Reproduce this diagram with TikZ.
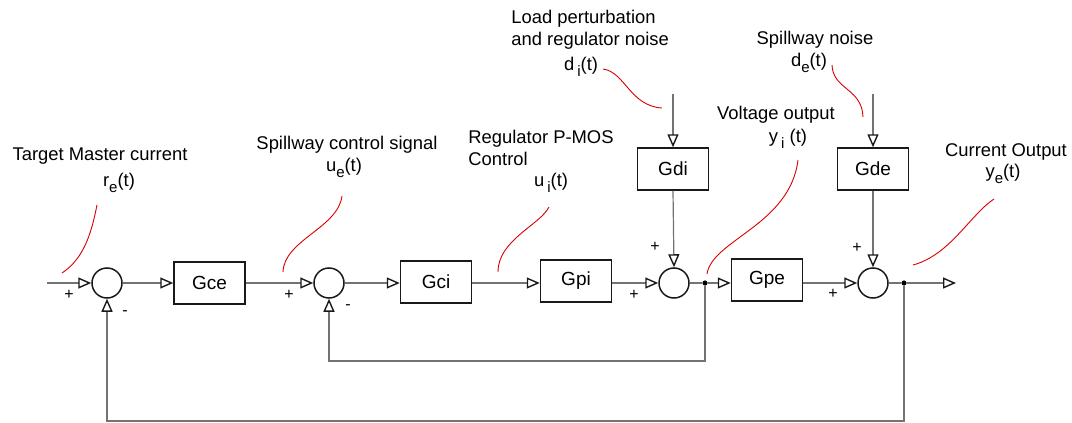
\documentclass[tikz,border=0pt]{standalone}
\usepackage{fontspec}
\setmainfont{Liberation Sans}
\usetikzlibrary{arrows.meta}
\newcommand{\sbs}[1]{\raisebox{-0.6ex}{\fontsize{7.5}{8}\selectfont #1}}
\begin{document}
\begin{tikzpicture}[x=0.5pt,y=-0.5pt,
 blk/.style={draw=black!90, line width=0.75pt, minimum width=35.5pt, minimum height=21pt, inner sep=0pt, font=\fontsize{9.5}{11}\selectfont},
 sumj/.style={circle, draw=black!90, line width=0.75pt, minimum size=15pt, inner sep=0pt},
 sig/.style={draw=black!55, line width=0.6pt, -{Triangle[open,length=6.5pt,width=5.5pt,color=black!90,line width=0.7pt]}},
 wire/.style={draw=black!55, line width=0.6pt},
 lbl/.style={font=\fontsize{9.2}{10.5}\selectfont, inner sep=0pt},
 sgn/.style={font=\fontsize{8}{9}\selectfont, inner sep=0pt},
 note/.style={draw=red!85!black, line width=0.45pt},
 jdot/.style={circle, fill=black, inner sep=0pt, minimum size=2.6pt}]

\useasboundingbox (0,0) rectangle (1072,423);

% blocks and junctions
\node[sumj] (s1) at (107,283) {};
\node[blk] (gce) at (209.5,283) {Gce};
\node[sumj] (s2) at (329,283) {};
\node[blk] (gci) at (436,282) {Gci};
\node[blk] (gpi) at (576,281) {Gpi};
\node[sumj] (s3) at (674,283) {};
\node[blk] (gdi) at (673,169) {Gdi};
\node[jdot] (j1) at (705,283) {};
\node[blk] (gpe) at (767,280) {Gpe};
\node[sumj] (s4) at (873,283) {};
\node[blk] (gde) at (873,169) {Gde};
\node[jdot] (j2) at (904,283) {};

\coordinate (in) at (47,283);
\coordinate (out) at (956,283);
\coordinate (di) at (673,94);
\coordinate (de) at (873,94);
\coordinate (fbi) at (705,361);
\coordinate (fbo) at (904,421);

% forward path
\draw[sig] (in) -- (s1.west);
\draw[sig] (s1.east) -- (gce.west |- s1.east);
\draw[sig] (gce.east |- s1.east) -- (s2.west);
\draw[sig] (s2.east) -- (gci.west |- s2.east);
\draw[sig] (gci.east |- s2.east) -- (gpi.west |- s2.east);
\draw[sig] (gpi.east |- s3.west) -- (s3.west);
\draw[wire] (s3.east) -- (j1);
\draw[sig] (j1) -- (gpe.west |- j1);
\draw[sig] (gpe.east |- s4.west) -- (s4.west);
\draw[wire] (s4.east) -- (j2);
\draw[sig] (j2) -- (out);

% disturbances
\draw[sig] (di) -- (gdi.north);
\draw[sig] (gdi.south) -- (s3.north);
\draw[sig] (de) -- (gde.north);
\draw[sig] (gde.south) -- (s4.north);

% feedback loops
\draw[sig] (j1) -- (fbi) -- (s2.south |- fbi) -- (s2.south);
\draw[sig] (j2) -- (fbo) -- (s1.south |- fbo) -- (s1.south);

% signs
\node[sgn] (p1) at (69,295) {+};
\node[sgn] (m1) at (125,313) {-};
\node[sgn] (p2) at (289,295) {+};
\node[sgn] (m2) at (348,307) {-};
\node[sgn] (p3) at (634,295) {+};
\node[sgn] (p3b) at (655,247) {+};
\node[sgn] (p4) at (833,294) {+};
\node[sgn] (p4b) at (857,248) {+};

% labels
\node[lbl] (t1) at (100,156) {Target Master current};
\node[lbl] (t1s) at (119,183) {r\sbs{e}(t)};
\node[lbl] (t2) at (347,145) {Spillway control signal};
\node[lbl] (t2s) at (344,168) {u\sbs{e}(t)};
\node[lbl, anchor=north west, align=left] (t3) at (468,130) {Regulator P-MOS\\[0.5pt]Control};
\node[lbl] (t3s) at (551,183) {u\,\sbs{i}(t)};
\node[lbl, anchor=north west, align=left] (t4) at (511,10) {Load perturbation\\[0.5pt]and regulator noise};
\node[lbl] (t4s) at (581,67) {d\,\sbs{i}(t)};
\node[lbl] (t5) at (776,115) {Voltage output};
\node[lbl] (t5s) at (788,139) {y\,\sbs{i} (t)};
\node[lbl] (t6) at (815,40) {Spillway noise};
\node[lbl] (t6s) at (809,63) {d\sbs{e}(t)};
\node[lbl] (t7) at (1006,152) {Current Output};
\node[lbl] (t7s) at (1003,174) {y\sbs{e}(t)};

% red annotation curves
\coordinate (a1) at (62,273);  \coordinate (b1) at (97,205);
\draw[note] (a1) .. controls (85,258) and (92,230) .. (b1);
\coordinate (a2) at (283,272); \coordinate (b2) at (342,196);
\draw[note] (a2) .. controls (284,240) and (338,228) .. (b2);
\coordinate (a3) at (498,272); \coordinate (b3) at (549,207);
\draw[note] (a3) .. controls (498,240) and (540,225) .. (b3);
\coordinate (a4) at (603,69);  \coordinate (b4) at (662,108);
\draw[note] (a4) .. controls (625,72) and (630,106) .. (b4);
\coordinate (a5) at (707,274); \coordinate (b5) at (798,160);
\draw[note] (a5) .. controls (712,240) and (790,225) .. (b5);
\coordinate (a6) at (832,65);  \coordinate (b6) at (863,117);
\draw[note] (a6) .. controls (833,90) and (862,88) .. (b6);
\coordinate (a7) at (913,265); \coordinate (b7) at (994,199);
\draw[note] (a7) .. controls (950,255) and (970,215) .. (b7);
\end{tikzpicture}
\end{document}
